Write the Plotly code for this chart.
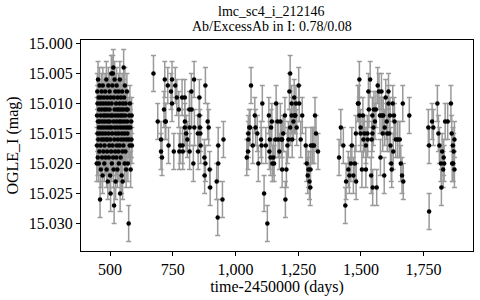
import plotly.graph_objects as go

# ---- season 1 (dense) ----
days_s1 = [447, 448, 448, 449, 450, 450, 451, 452, 452, 453, 454, 455, 455, 456, 457, 458, 458, 459, 460, 461,
           462, 462, 463, 464, 465, 466, 466, 467, 468, 469, 470, 470, 471, 472, 473, 474, 474, 475, 476, 477,
           478, 478, 479, 480, 481, 482, 482, 483, 484, 485, 486, 486, 487, 488, 489, 490, 490, 491, 492, 493,
           494, 494, 495, 496, 497, 498, 498, 499, 500, 501, 502, 502, 503, 504, 505, 505, 506, 507, 508, 509,
           510, 510, 511, 512, 513, 514, 514, 515, 516, 517, 518, 518, 519, 520, 521, 522, 522, 523, 524, 525,
           526, 526, 527, 528, 529, 530, 530, 531, 532, 533, 534, 534, 535, 536, 537, 538, 538, 539, 540, 541,
           542, 542, 543, 544, 545, 546, 546, 547, 548, 549, 550, 550, 551, 552, 553, 554, 554, 555, 556, 557,
           558, 558, 559, 560, 561, 562, 563, 564, 565, 566, 567, 568, 569, 570, 571, 572, 574, 575, 576, 578,
           579, 581, 582, 584, 585, 586, 587]
mag_s1 = [15.020, 15.012, 15.017, 15.008, 15.015, 15.010, 15.019, 15.013, 15.006, 15.016, 15.009, 15.014, 15.020,
          15.011, 15.018, 15.007, 15.013, 15.015, 15.026, 15.010, 15.017, 15.012, 15.021, 15.009, 15.014, 15.016,
          15.008, 15.011, 15.019, 15.013, 15.022, 15.015, 15.007, 15.010, 15.018, 15.012, 15.016, 15.014, 15.009,
          15.020, 15.011, 15.017, 15.013, 15.008, 15.015, 15.019, 15.012, 15.010, 15.016, 15.006, 15.014, 15.021,
          15.011, 15.018, 15.009, 15.013, 15.016, 15.023, 15.012, 15.007, 15.015, 15.010, 15.019, 15.014, 15.017,
          15.011, 15.008, 15.013, 15.022, 15.016, 15.025, 15.009, 15.012, 15.018, 15.005, 15.014, 15.010, 15.020,
          15.015, 15.007, 15.017, 15.012, 15.005, 15.019, 15.004, 15.013, 15.021, 15.009, 15.027, 15.016, 15.011,
          15.006, 15.014, 15.018, 15.008, 15.012, 15.023, 15.015, 15.010, 15.019, 15.013, 15.007, 15.017, 15.011,
          15.021, 15.014, 15.009, 15.016, 15.012, 15.018, 15.008, 15.015, 15.020, 15.011, 15.013, 15.017, 15.010,
          15.006, 15.025, 15.014, 15.012, 15.019, 15.009, 15.016, 15.011, 15.022, 15.013, 15.015, 15.008, 15.018,
          15.023, 15.012, 15.010, 15.014, 15.017, 15.004, 15.011, 15.016, 15.009, 15.013, 15.020, 15.015, 15.007,
          15.012, 15.018, 15.010, 15.014, 15.021, 15.011, 15.016, 15.008, 15.013, 15.015, 15.011, 15.020, 15.014,
          15.030, 15.016, 15.012, 15.017, 15.010, 15.014, 15.021, 15.013, 15.016, 15.012, 15.017]

# ---- season 2 ----
days_s2 = [673, 690, 703, 703, 707, 715, 718, 720, 722, 730, 733, 743, 747, 747, 754, 760, 766, 774, 776, 779,
           787, 789, 790, 798, 798, 798, 803, 808, 816, 817, 817, 824, 825, 832, 835, 836, 850, 851, 856, 856,
           858, 860, 861, 876, 880, 880, 877, 889, 893, 897, 899, 925, 929, 931, 931, 948, 952]
mag_s2 = [15.005, 15.013, 15.016, 15.018, 15.019, 15.011, 15.006, 15.013, 15.013, 15.007, 15.017, 15.008, 15.006,
          15.010, 15.018, 15.007, 15.009, 15.011, 15.018, 15.017, 15.009, 15.017, 15.018, 15.009, 15.013, 15.014,
          15.015, 15.016, 15.011, 15.014, 15.018, 15.008, 15.011, 15.020, 15.006, 15.014, 15.015, 15.018, 15.009,
          15.012, 15.014, 15.015, 15.017, 15.019, 15.007, 15.020, 15.022, 15.013, 15.014, 15.021, 15.024, 15.023,
          15.029, 15.017, 15.020, 15.026, 15.016]

# ---- season 3 ----
days_s3 = [1045, 1051, 1051, 1055, 1050, 1062, 1058, 1069, 1077, 1080, 1087, 1091, 1102, 1107, 1104, 1114, 1121,
           1127, 1133, 1135, 1137, 1142, 1140, 1145, 1147, 1151, 1154, 1159, 1162, 1167, 1170, 1175, 1179, 1183,
           1186, 1186, 1190, 1197, 1199, 1203, 1207, 1211, 1215, 1218, 1218, 1224, 1224, 1226, 1231, 1234, 1236,
           1239, 1241, 1244, 1252, 1254, 1260, 1266, 1280, 1284, 1288, 1291, 1295, 1298, 1299, 1301, 1308, 1313,
           1317, 1321, 1329]
mag_s3 = [15.019, 15.016, 15.015, 15.014, 15.018, 15.007, 15.014, 15.017, 15.012, 15.014, 15.015, 15.020, 15.016,
          15.010, 15.017, 15.025, 15.017, 15.030, 15.012, 15.018, 15.016, 15.014, 15.019, 15.013, 15.020, 15.019,
          15.020, 15.016, 15.010, 15.013, 15.016, 15.018, 15.013, 15.016, 15.016, 15.021, 15.015, 15.012, 15.026,
          15.021, 15.017, 15.016, 15.008, 15.005, 15.014, 15.010, 15.012, 15.016, 15.013, 15.009, 15.012, 15.012,
          15.010, 15.014, 15.007, 15.010, 15.016, 15.012, 15.017, 15.020, 15.022, 15.021, 15.023, 15.024, 15.021,
          15.017, 15.017, 15.017, 15.012, 15.015, 15.018]

# ---- season 4 ----
days_s4 = [1413, 1420, 1430, 1438, 1441, 1450, 1454, 1460, 1464, 1470, 1476, 1480, 1481, 1488, 1491, 1494, 1494,
           1499, 1499, 1504, 1508, 1510, 1514, 1520, 1520, 1526, 1527, 1530, 1532, 1537, 1541, 1543, 1546, 1546,
           1547, 1550, 1552, 1556, 1560, 1563, 1567, 1572, 1576, 1578, 1582, 1584, 1587, 1589, 1593, 1595, 1599,
           1603, 1605, 1610, 1610, 1613, 1616, 1618, 1621, 1623, 1627, 1629, 1632, 1634, 1639, 1647, 1655, 1659,
           1664, 1667, 1669, 1693]
mag_s4 = [15.019, 15.014, 15.017, 15.027, 15.023, 15.021, 15.022, 15.020, 15.017, 15.022, 15.020, 15.015, 15.023,
          15.010, 15.010, 15.006, 15.012, 15.014, 15.015, 15.021, 15.012, 15.016, 15.015, 15.021, 15.017, 15.015,
          15.016, 15.008, 15.011, 15.006, 15.022, 15.016, 15.012, 15.015, 15.024, 15.014, 15.011, 15.013, 15.011,
          15.024, 15.007, 15.008, 15.012, 15.019, 15.008, 15.012, 15.015, 15.012, 15.022, 15.014, 15.009, 15.013,
          15.015, 15.008, 15.010, 15.015, 15.012, 15.017, 15.020, 15.021, 15.010, 15.018, 15.012, 15.013, 15.016,
          15.016, 15.016, 15.020, 15.022, 15.010, 15.023, 15.012]

# ---- season 5 ----
days_s5 = [1769, 1772, 1772, 1784, 1789, 1805, 1809, 1813, 1819, 1821, 1824, 1828, 1830, 1832, 1836, 1846, 1859,
           1862, 1864, 1867, 1868, 1870, 1873, 1873]
mag_s5 = [15.014, 15.017, 15.028, 15.013, 15.014, 15.010, 15.015, 15.017, 15.020, 15.024, 15.018, 15.021, 15.019,
          15.020, 15.013, 15.013, 15.010, 15.015, 15.020, 15.017, 15.020, 15.018, 15.016, 15.021]

MAG_ERR = 0.003

x_ticks = [500, 750, 1000, 1250, 1500, 1750]
y_ticks = [15.000, 15.005, 15.010, 15.015, 15.020, 15.025, 15.030]

title_lines = ["lmc_sc4_i_212146", "Ab/ExcessAb in I: 0.78/0.08"]

days = days_s1 + days_s2 + days_s3 + days_s4 + days_s5
mags = mag_s1 + mag_s2 + mag_s3 + mag_s4 + mag_s5

FONT = "Times New Roman, Liberation Serif, serif"

fig = go.Figure(go.Scatter(
    x=days, y=mags, mode="markers",
    marker=dict(color="black", size=4.5),
    error_y=dict(type="constant", value=MAG_ERR, color="#9a9a9a", thickness=1.5, width=2.5),
    showlegend=False,
))

axis_common = dict(showline=True, linecolor="black", linewidth=1, mirror=True, showgrid=False,
                   zeroline=False, ticks="outside", ticklen=4, tickcolor="black",
                   tickfont=dict(family=FONT, size=16, color="black"))

for line, shift in zip(title_lines, [29, 14]):
    fig.add_annotation(text=line, xref="paper", yref="paper", x=0.4865, y=1,
                       xanchor="center", yanchor="middle", yshift=shift, showarrow=False,
                       font=dict(family=FONT, size=14, color="black"))

fig.update_layout(
    width=480, height=300,
    margin=dict(l=81, r=7, t=40, b=49),
    paper_bgcolor="white", plot_bgcolor="white",
    xaxis=dict(range=[384, 1947], tickvals=x_ticks, tickformat=",",
               title=dict(text="time-2450000 (days)", font=dict(family=FONT, size=16, color="black"), standoff=0),
               **axis_common),
    yaxis=dict(range=[15.0346, 14.9994], tickvals=y_ticks, tickformat=".3f",
               title=dict(text="OGLE_I (mag)", font=dict(family=FONT, size=16, color="black"), standoff=6),
               **axis_common),
)

fig.write_html("out.html", config={"displayModeBar": False},
               post_script="document.body.style.margin='0';")
